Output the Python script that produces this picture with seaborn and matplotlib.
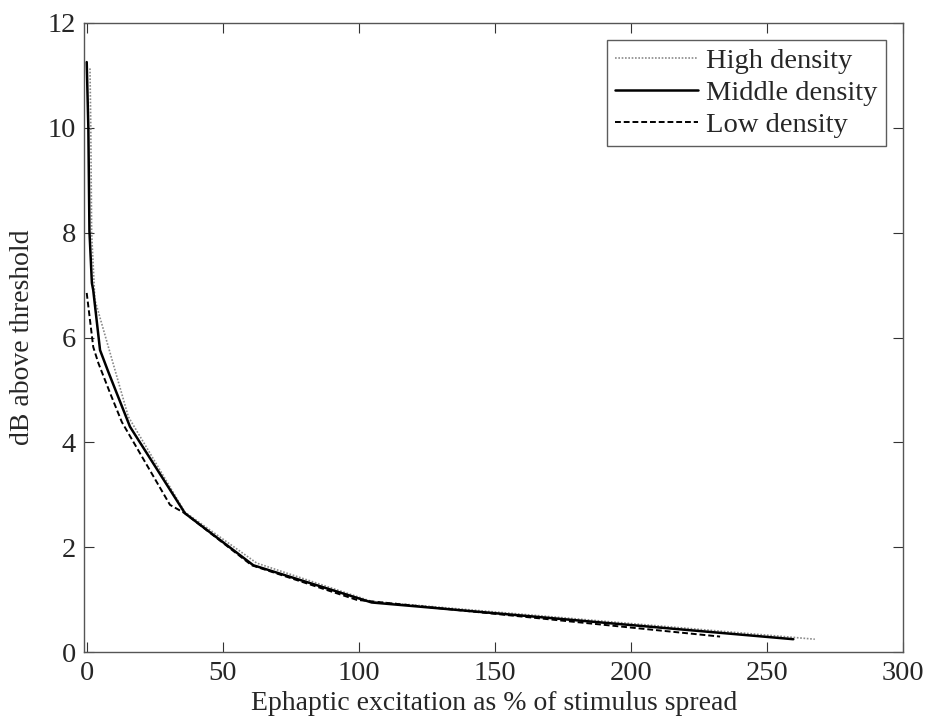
import seaborn as sns
import matplotlib.pyplot as plt
import pandas as pd

# values
high_x = [1.2, 1.5, 1.8, 3.0, 15.3, 36.1, 62.5, 104.7, 267.5]
high_y = [11.13, 10.0, 8.0, 6.72, 4.49, 2.67, 1.70, 0.97, 0.25]

mid_x = [0.0, 0.6, 1.0, 1.9, 2.4, 4.9, 7.9, 15.9, 36.1, 61.2, 104.7, 259.6]
mid_y = [11.25, 10.0, 8.03, 7.04, 6.9, 5.76, 5.35, 4.30, 2.65, 1.66, 0.95, 0.25]

low_x = [0.0, 2.4, 4.3, 8.6, 12.9, 30.6, 36.1, 60.6, 99.2, 232.7]
low_y = [6.85, 5.82, 5.51, 4.94, 4.39, 2.81, 2.65, 1.66, 1.00, 0.30]

labels = ["High density", "Middle density", "Low density"]

sns.set_style("ticks")
plt.rcParams['font.family'] = ['Liberation Serif', 'DejaVu Serif']

fig = plt.figure(figsize=(9.29, 7.24), dpi=100)
ax = fig.add_axes([0.0907, 0.099, 0.8816, 0.8696])

styles = [
    dict(color="#8a8a8a", linestyle=(0, (1, 1)), linewidth=1.2),
    dict(color="black", linestyle="-", linewidth=1.8),
    dict(color="black", linestyle=(0, (3, 1.5)), linewidth=1.4),
]
series = [(high_x, high_y), (mid_x, mid_y), (low_x, low_y)]
for (xs, ys), lab, st in zip(series, labels, styles):
    df = pd.DataFrame({"x": xs, "y": ys})
    sns.lineplot(data=df, x="x", y="y", sort=False, estimator=None,
                 ax=ax, label=lab, **st)

ax.set_xlim(-0.9, 300)
ax.set_ylim(0, 12)
ax.set_xticks(range(0, 301, 50))
ax.set_yticks(range(0, 13, 2))
ax.tick_params(direction="in", top=True, right=True, labelsize=20.5,
               length=7, width=0.8, color="#333333", pad=6)
for sp in ax.spines.values():
    sp.set_color("#555555")
    sp.set_linewidth(1.0)

ax.set_xlabel("Ephaptic excitation as % of stimulus spread", fontsize=20, labelpad=4)
ax.set_ylabel("dB above threshold", fontsize=20, labelpad=9)

leg = ax.legend(loc="upper right", fontsize=20.5, frameon=True, fancybox=False,
                handlelength=2.9, handletextpad=0.3, labelspacing=0.2,
                borderpad=0.3, borderaxespad=0.6)
leg.get_frame().set_edgecolor("#333333")
leg.get_frame().set_linewidth(1.0)

fig.savefig("out.png", dpi=100)
